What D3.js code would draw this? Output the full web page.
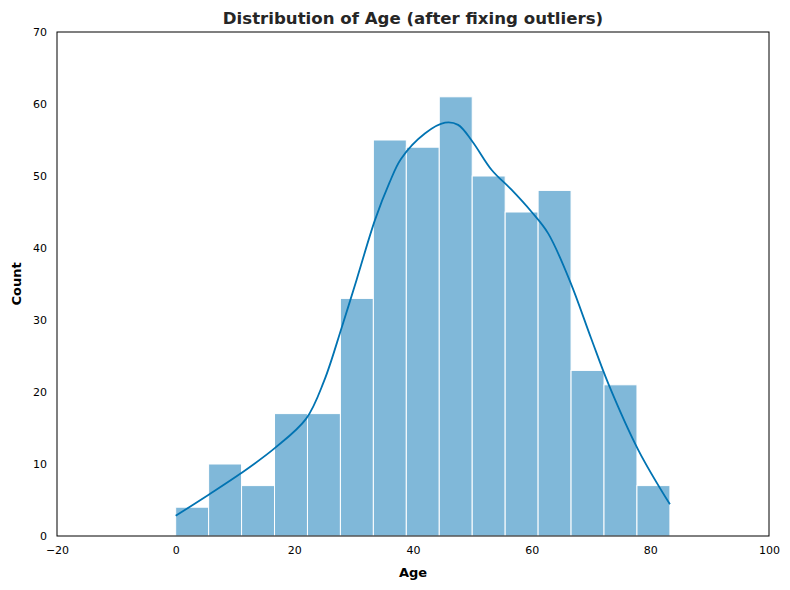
<!DOCTYPE html>
<html><head><meta charset="utf-8">
<script src="https://cdn.jsdelivr.net/npm/d3@7"></script>
<style>body{margin:0;background:#fff;} text{font-family:"DejaVu Sans",sans-serif;}</style>
</head><body><svg id="c" width="790" height="590"></svg>
<script>
const binStart = 0;
const binEnd = 83.3;
const counts = [4, 10, 7, 17, 17, 33, 55, 54, 61, 50, 45, 48, 23, 21, 7];
const kdeX = [0, 5.5, 11, 16.7, 22, 25, 28, 30.5, 33.6, 36, 38, 42, 45.4, 47.6, 50, 53.3, 56.6, 60, 62.8, 66.5, 70, 72.9, 78, 83.3];
const kdeY = [2.8, 5.7, 8.7, 12.2, 16.3, 21.5, 29, 35.6, 43.9, 49, 52.4, 55.9, 57.4, 57.1, 54.8, 50.8, 48.1, 45, 42, 35.3, 27.5, 21.2, 11.9, 4.4];
const xTicks = [-20, 0, 20, 40, 60, 80, 100];
const yTicks = [0, 10, 20, 30, 40, 50, 60, 70];

const svg = d3.select("#c");
const L = 57, R = 769, T = 32, B = 536;
const x = d3.scaleLinear().domain([-20, 100]).range([L, R]);
const y = d3.scaleLinear().domain([0, 70]).range([B, T]);
const w = (binEnd - binStart) / counts.length;

svg.append("g").selectAll("rect").data(counts).join("rect")
  .attr("x", (d, i) => x(binStart + i * w))
  .attr("width", (d, i) => x(binStart + (i + 1) * w) - x(binStart + i * w))
  .attr("y", d => y(d))
  .attr("height", d => y(0) - y(d))
  .attr("fill", "#80b8d9").attr("stroke", "#ffffff").attr("stroke-width", 1);

const line = d3.line().x(d => x(d[0])).y(d => y(d[1])).curve(d3.curveCatmullRom.alpha(0.5));
svg.append("path").datum(kdeX.map((v, i) => [v, kdeY[i]]))
  .attr("d", line).attr("fill", "none").attr("stroke", "#0173b2").attr("stroke-width", 1.8);

svg.append("rect").attr("x", L).attr("y", T).attr("width", R - L).attr("height", B - T)
  .attr("fill", "none").attr("stroke", "#000").attr("stroke-width", 1);

const xa = svg.append("g").attr("transform", `translate(0,${B})`)
  .call(d3.axisBottom(x).tickValues(xTicks).tickSize(0).tickPadding(10));
xa.select(".domain").remove();
xa.selectAll("text").attr("font-size", 11).attr("fill", "#000").style("font-family", "DejaVu Sans");
const ya = svg.append("g").attr("transform", `translate(${L},0)`)
  .call(d3.axisLeft(y).tickValues(yTicks).tickSize(0).tickPadding(10));
ya.select(".domain").remove();
ya.selectAll("text").attr("font-size", 11).attr("fill", "#000").style("font-family", "DejaVu Sans");

svg.append("text").attr("x", (L + R) / 2).attr("y", 24).attr("text-anchor", "middle")
  .attr("font-size", 16.6).attr("font-weight", "bold").attr("fill", "#262626")
  .text("Distribution of Age (after fixing outliers)");
svg.append("text").attr("x", (L + R) / 2).attr("y", 577).attr("text-anchor", "middle")
  .attr("font-size", 13).attr("font-weight", "bold").attr("fill", "#000").text("Age");
svg.append("text").attr("transform", `translate(21,${(T + B) / 2}) rotate(-90)`).attr("text-anchor", "middle")
  .attr("font-size", 13).attr("font-weight", "bold").attr("fill", "#000").text("Count");
</script></body></html>
